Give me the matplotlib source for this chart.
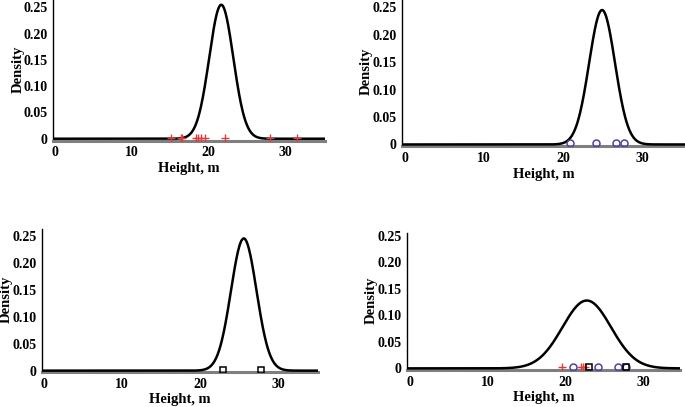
import numpy as np
import matplotlib
matplotlib.use("Agg")
import matplotlib.pyplot as plt

plt.rcParams["font.family"] = ["Liberation Serif", "DejaVu Serif"]
plt.rcParams["font.weight"] = "bold"

# fitted normal curves: (mean, sd) per panel
CURVE_MEAN = [21.7, 24.9, 25.6, 22.7]
CURVE_SD = [1.565, 1.63, 1.63, 3.12]

# observed heights (m) shown as rug markers
plus_obs = [15.2, 16.5, 16.6, 18.4, 18.7, 19.0, 19.6, 22.2, 28.0, 31.6]
circle_obs = [20.9, 24.1, 26.7, 27.7]
square_obs = [23.0, 27.8]
plus_pooled = [19.5, 21.9, 22.2, 22.5]

Y_TICKS = [0, 0.05, 0.10, 0.15, 0.20, 0.25]
Y_TICKLABELS = ["0", "0.05", "0.10", "0.15", "0.20", "0.25"]
X_TICKS = [0, 10, 20, 30]

RED, BLUE = "#e03a3a", "#4a44a8"

# axes rect (fig fraction), xlim, ylim
PANELS = [
    ([0.0774, 0.654, 0.397, 0.346], (-0.2, 35.2), (-0.004, 0.264)),
    ([0.587, 0.641, 0.413, 0.359], (-0.3, 35.35), (-0.003, 0.263)),
    ([0.0613, 0.086, 0.403, 0.351], (-0.2, 35.1), (-0.0025, 0.262)),
    ([0.594, 0.091, 0.399, 0.337], (-0.4, 34.7), (-0.003, 0.2555)),
]

fig = plt.figure(figsize=(6.85, 4.07), dpi=100)

for i, (rect, xl, yl) in enumerate(PANELS):
    ax = fig.add_axes(rect)
    x = np.linspace(xl[0], xl[1], 600)
    m, s = CURVE_MEAN[i], CURVE_SD[i]
    y = np.exp(-0.5 * ((x - m) / s) ** 2) / (s * np.sqrt(2 * np.pi))
    ax.plot(x, y, color="black", lw=1.8, zorder=3)

    base = 0.002
    if i == 0:
        ax.plot(plus_obs, [base] * len(plus_obs), "+", color=RED, ms=6, mew=1, zorder=4)
    if i == 1:
        ax.plot(circle_obs, [base] * len(circle_obs), "o", mfc="none", mec=BLUE,
                ms=5, mew=1.1, zorder=4)
    if i == 2:
        ax.plot(square_obs, [base] * len(square_obs), "s", mfc="none", mec="black",
                ms=5, mew=1.1, zorder=4)
    if i == 3:
        ax.plot(plus_pooled, [base] * len(plus_pooled), "+", color=RED, ms=6, mew=1, zorder=4)
        ax.plot(circle_obs, [base] * len(circle_obs), "o", mfc="none", mec=BLUE,
                ms=5, mew=1.1, zorder=4)
        ax.plot(square_obs, [base] * len(square_obs), "s", mfc="none", mec="black",
                ms=5, mew=1.1, zorder=4)

    ax.set_xlim(*xl)
    ax.set_ylim(*yl)
    ax.set_xticks(X_TICKS)
    ax.set_yticks(Y_TICKS)
    ax.set_yticklabels(Y_TICKLABELS)
    ax.tick_params(length=0, labelsize=10, pad=4)
    for lab in ax.get_xticklabels() + ax.get_yticklabels():
        lab.set_fontweight("bold")

    ax.spines["top"].set_visible(False)
    ax.spines["right"].set_visible(False)
    ax.spines["left"].set_color("black")
    ax.spines["left"].set_linewidth(1.0)
    ax.spines["bottom"].set_color("#7f7f7f")
    ax.spines["bottom"].set_linewidth(2.2)

    ax.set_ylabel("Density", fontsize=10.5, fontweight="bold")
    ax.set_xlabel("Height, m", fontsize=10.5, fontweight="bold")
    ax.yaxis.set_label_coords(-0.105, 0.51)
    ax.xaxis.set_label_coords(0.5, -0.15)

fig.savefig("out.png", dpi=100)
